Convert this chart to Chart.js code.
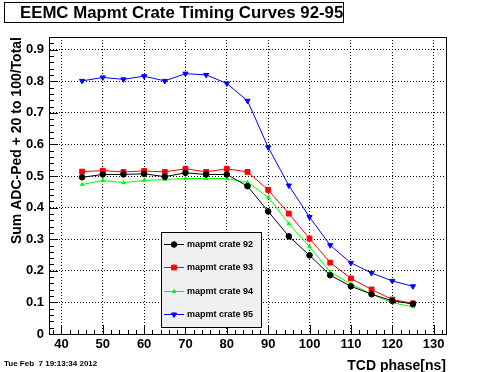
<!DOCTYPE html>
<html>
<head>
<meta charset="utf-8">
<script src="https://cdn.jsdelivr.net/npm/chart.js@4.4.0/dist/chart.umd.min.js"></script>
<style>
html, body { margin: 0; padding: 0; background: #fff; }
#wrap { width: 496px; height: 372px; }
</style>
</head>
<body>
<div id="wrap"><canvas id="timingChart" width="496" height="372"></canvas></div>
<script>
// TCD phase scan, fraction of ADC-ped in window per crate
const phase = [45, 50, 55, 60, 65, 70, 75, 80, 85, 90, 95, 100, 105, 110, 115, 120, 125];
const crate92 = [0.496, 0.505, 0.505, 0.507, 0.498, 0.510, 0.505, 0.505, 0.468, 0.388, 0.309, 0.249, 0.186, 0.151, 0.126, 0.105, 0.095];
const crate93 = [0.514, 0.517, 0.513, 0.516, 0.513, 0.523, 0.513, 0.523, 0.513, 0.456, 0.381, 0.302, 0.226, 0.176, 0.141, 0.109, 0.097];
const crate94 = [0.473, 0.486, 0.479, 0.486, 0.489, 0.492, 0.492, 0.492, 0.480, 0.433, 0.349, 0.276, 0.196, 0.158, 0.126, 0.099, 0.086];
const crate95 = [0.801, 0.812, 0.806, 0.816, 0.801, 0.824, 0.820, 0.793, 0.738, 0.591, 0.470, 0.370, 0.281, 0.225, 0.193, 0.168, 0.151];
const crateNames = ['mapmt crate 92', 'mapmt crate 93', 'mapmt crate 94', 'mapmt crate 95'];

const FONT = 'Liberation Sans, Arial, Helvetica, sans-serif';

function toPoints(values) {
    return phase.map((p, i) => ({ x: p, y: values[i] }));
}

function makeSet(label, values, color, style, radius, rotation) {
    return {
        label: label,
        data: toPoints(values),
        borderColor: color,
        backgroundColor: color,
        borderWidth: 1,
        pointStyle: style,
        pointRadius: radius,
        pointRotation: rotation,
        pointBackgroundColor: color,
        pointBorderColor: color,
        pointBorderWidth: 1,
        tension: 0
    };
}

const datasets = [
    makeSet(crateNames[0], crate92, '#000000', 'circle', 2.8, 0),
    makeSet(crateNames[1], crate93, '#ff0000', 'rect', 3.4, 0),
    makeSet(crateNames[2], crate94, '#00ff00', 'triangle', 2.0, 0),
    makeSet(crateNames[3], crate95, '#0000ff', 'triangle', 3.0, 180)
];

// frame, ROOT style inside ticks, title box, legend, date stamp
const rootDecor = {
    id: 'rootDecor',
    afterDraw(chart) {
        const { ctx, chartArea: a, scales: { x, y } } = chart;
        ctx.save();
        ctx.strokeStyle = '#000';
        ctx.lineWidth = 1;
        ctx.strokeRect(a.left + 0.5, a.top + 0.5, a.right - a.left, a.bottom - a.top);

        ctx.beginPath();
        for (let v = 38; v <= x.max; v += 2) {
            const px = Math.round(x.getPixelForValue(v)) + 0.5;
            const len = v % 10 === 0 ? 9 : 4;
            ctx.moveTo(px, a.bottom);
            ctx.lineTo(px, a.bottom - len);
        }
        for (let k = 0; k * 0.02 <= y.max + 1e-9; k++) {
            const py = Math.round(y.getPixelForValue(k * 0.02)) + 0.5;
            const len = k % 5 === 0 ? 9 : 5;
            ctx.moveTo(a.left, py);
            ctx.lineTo(a.left + len, py);
        }
        ctx.stroke();

        // title box
        ctx.strokeRect(4.5, 2.5, 339, 20);
        ctx.fillStyle = '#000';
        ctx.font = 'bold 16.8px ' + FONT;
        ctx.textBaseline = 'middle';
        ctx.textAlign = 'left';
        ctx.fillText('EEMC Mapmt Crate Timing Curves 92-95', 20, 13);

        // date stamp
        ctx.font = 'bold 8px ' + FONT;
        ctx.fillText('Tue Feb  7 19:13:34 2012', 4, 364);

        // legend
        const lx = 161, ly = 232, lw = 100, lh = 95;
        ctx.fillStyle = '#f0f0f0';
        ctx.fillRect(lx, ly, lw, lh);
        ctx.strokeRect(lx + 0.5, ly + 0.5, lw, lh);
        chart.data.datasets.forEach((ds, i) => {
            const ry = Math.round(ly + 12 + i * 23.4) + 0.5;
            ctx.strokeStyle = ds.borderColor;
            ctx.beginPath();
            ctx.moveTo(lx + 3, ry);
            ctx.lineTo(lx + 23, ry);
            ctx.stroke();
            ctx.fillStyle = ds.borderColor;
            Chart.helpers.drawPoint(ctx, {
                pointStyle: ds.pointStyle,
                rotation: ds.pointRotation,
                radius: ds.pointRadius,
                borderWidth: 1
            }, lx + 13, ry);
            ctx.fillStyle = '#000';
            ctx.font = 'bold 9px ' + FONT;
            ctx.fillText(ds.label, lx + 26, ry);
        });
        ctx.restore();
    }
};

new Chart(document.getElementById('timingChart'), {
    type: 'line',
    data: { datasets: datasets },
    options: {
        responsive: false,
        animation: false,
        layout: { padding: { left: 0, right: 50, top: 37, bottom: 0 } },
        plugins: {
            legend: { display: false },
            tooltip: { enabled: false }
        },
        scales: {
            x: {
                type: 'linear',
                min: 37,
                max: 133,
                afterFit: (s) => { s.height = 38; },
                ticks: {
                    stepSize: 10,
                    includeBounds: false,
                    color: '#000',
                    padding: 3,
                    maxRotation: 0,
                    font: { family: FONT, size: 13, weight: 'bold' }
                },
                grid: { color: '#000', lineWidth: 1, drawTicks: false },
                border: { display: true, color: '#000', width: 1, dash: [1, 2] },
                title: {
                    display: true,
                    text: 'TCD phase[ns]',
                    align: 'end',
                    color: '#000',
                    padding: { top: 0, bottom: -3 },
                    font: { family: FONT, size: 14, weight: 'bold' }
                }
            },
            y: {
                min: 0,
                max: 0.94,
                afterFit: (s) => { s.width = 49; },
                ticks: {
                    stepSize: 0.1,
                    includeBounds: false,
                    color: '#000',
                    padding: 5,
                    callback: (v) => String(+v.toFixed(1)),
                    font: { family: FONT, size: 13, weight: 'bold' }
                },
                grid: { color: '#000', lineWidth: 1, drawTicks: false },
                border: { display: true, color: '#000', width: 1, dash: [1, 2] },
                title: {
                    display: true,
                    text: 'Sum ADC-Ped + 20 to 100/Total',
                    align: 'end',
                    color: '#000',
                    padding: { top: 9, bottom: 0 },
                    font: { family: FONT, size: 14, weight: 'bold' }
                }
            }
        }
    },
    plugins: [rootDecor]
});
</script>
</body>
</html>
